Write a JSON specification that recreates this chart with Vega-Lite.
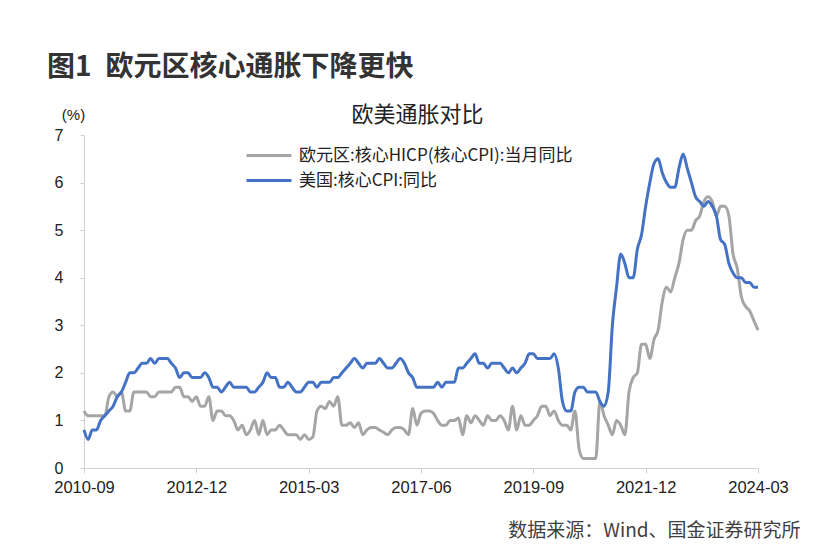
{
  "$schema": "https://vega.github.io/schema/vega-lite/v6.json",
  "width": 674,
  "height": 333,
  "autosize": {"type": "none"},
  "padding": {"left": 84, "top": 135, "right": 76, "bottom": 84},
  "background": "white",
  "title": {
    "text": "图1\u2002欧元区核心通胀下降更快",
    "anchor": "start",
    "frame": "group",
    "dx": -37,
    "offset": 21,
    "font": "Noto Sans CJK SC",
    "fontSize": 28,
    "fontWeight": "bold",
    "color": "#333333"
  },
  "data": {
    "values": [
      {"m": "2010-09", "eu": 1.2, "us": 0.8},
      {"m": "2010-10", "eu": 1.1, "us": 0.6},
      {"m": "2010-11", "eu": 1.1, "us": 0.8},
      {"m": "2010-12", "eu": 1.1, "us": 0.8},
      {"m": "2011-01", "eu": 1.1, "us": 1.0},
      {"m": "2011-02", "eu": 1.1, "us": 1.1},
      {"m": "2011-03", "eu": 1.5, "us": 1.2},
      {"m": "2011-04", "eu": 1.6, "us": 1.3},
      {"m": "2011-05", "eu": 1.5, "us": 1.5},
      {"m": "2011-06", "eu": 1.6, "us": 1.6},
      {"m": "2011-07", "eu": 1.2, "us": 1.8},
      {"m": "2011-08", "eu": 1.2, "us": 2.0},
      {"m": "2011-09", "eu": 1.6, "us": 2.0},
      {"m": "2011-10", "eu": 1.6, "us": 2.1},
      {"m": "2011-11", "eu": 1.6, "us": 2.2},
      {"m": "2011-12", "eu": 1.6, "us": 2.2},
      {"m": "2012-01", "eu": 1.5, "us": 2.3},
      {"m": "2012-02", "eu": 1.5, "us": 2.2},
      {"m": "2012-03", "eu": 1.6, "us": 2.3},
      {"m": "2012-04", "eu": 1.6, "us": 2.3},
      {"m": "2012-05", "eu": 1.6, "us": 2.3},
      {"m": "2012-06", "eu": 1.6, "us": 2.2},
      {"m": "2012-07", "eu": 1.7, "us": 2.1},
      {"m": "2012-08", "eu": 1.7, "us": 1.9},
      {"m": "2012-09", "eu": 1.5, "us": 2.0},
      {"m": "2012-10", "eu": 1.5, "us": 2.0},
      {"m": "2012-11", "eu": 1.4, "us": 1.9},
      {"m": "2012-12", "eu": 1.5, "us": 1.9},
      {"m": "2013-01", "eu": 1.3, "us": 1.9},
      {"m": "2013-02", "eu": 1.3, "us": 2.0},
      {"m": "2013-03", "eu": 1.5, "us": 1.9},
      {"m": "2013-04", "eu": 1.0, "us": 1.7},
      {"m": "2013-05", "eu": 1.2, "us": 1.7},
      {"m": "2013-06", "eu": 1.2, "us": 1.6},
      {"m": "2013-07", "eu": 1.1, "us": 1.7},
      {"m": "2013-08", "eu": 1.1, "us": 1.8},
      {"m": "2013-09", "eu": 1.0, "us": 1.7},
      {"m": "2013-10", "eu": 0.8, "us": 1.7},
      {"m": "2013-11", "eu": 0.9, "us": 1.7},
      {"m": "2013-12", "eu": 0.7, "us": 1.7},
      {"m": "2014-01", "eu": 0.8, "us": 1.6},
      {"m": "2014-02", "eu": 1.0, "us": 1.6},
      {"m": "2014-03", "eu": 0.7, "us": 1.7},
      {"m": "2014-04", "eu": 1.0, "us": 1.8},
      {"m": "2014-05", "eu": 0.7, "us": 2.0},
      {"m": "2014-06", "eu": 0.8, "us": 1.9},
      {"m": "2014-07", "eu": 0.8, "us": 1.9},
      {"m": "2014-08", "eu": 0.9, "us": 1.7},
      {"m": "2014-09", "eu": 0.8, "us": 1.7},
      {"m": "2014-10", "eu": 0.7, "us": 1.8},
      {"m": "2014-11", "eu": 0.7, "us": 1.7},
      {"m": "2014-12", "eu": 0.7, "us": 1.6},
      {"m": "2015-01", "eu": 0.6, "us": 1.6},
      {"m": "2015-02", "eu": 0.7, "us": 1.7},
      {"m": "2015-03", "eu": 0.6, "us": 1.8},
      {"m": "2015-04", "eu": 0.65, "us": 1.8},
      {"m": "2015-05", "eu": 1.2, "us": 1.7},
      {"m": "2015-06", "eu": 1.3, "us": 1.8},
      {"m": "2015-07", "eu": 1.25, "us": 1.8},
      {"m": "2015-08", "eu": 1.4, "us": 1.8},
      {"m": "2015-09", "eu": 1.3, "us": 1.9},
      {"m": "2015-10", "eu": 1.5, "us": 1.9},
      {"m": "2015-11", "eu": 0.9, "us": 2.0},
      {"m": "2015-12", "eu": 0.9, "us": 2.1},
      {"m": "2016-01", "eu": 0.95, "us": 2.2},
      {"m": "2016-02", "eu": 0.85, "us": 2.3},
      {"m": "2016-03", "eu": 0.95, "us": 2.2},
      {"m": "2016-04", "eu": 0.7, "us": 2.1},
      {"m": "2016-05", "eu": 0.8, "us": 2.2},
      {"m": "2016-06", "eu": 0.85, "us": 2.2},
      {"m": "2016-07", "eu": 0.85, "us": 2.2},
      {"m": "2016-08", "eu": 0.8, "us": 2.3},
      {"m": "2016-09", "eu": 0.75, "us": 2.2},
      {"m": "2016-10", "eu": 0.7, "us": 2.1},
      {"m": "2016-11", "eu": 0.8, "us": 2.1},
      {"m": "2016-12", "eu": 0.85, "us": 2.2},
      {"m": "2017-01", "eu": 0.85, "us": 2.3},
      {"m": "2017-02", "eu": 0.8, "us": 2.2},
      {"m": "2017-03", "eu": 0.7, "us": 2.0},
      {"m": "2017-04", "eu": 1.25, "us": 1.9},
      {"m": "2017-05", "eu": 0.9, "us": 1.7},
      {"m": "2017-06", "eu": 1.15, "us": 1.7},
      {"m": "2017-07", "eu": 1.2, "us": 1.7},
      {"m": "2017-08", "eu": 1.2, "us": 1.7},
      {"m": "2017-09", "eu": 1.15, "us": 1.7},
      {"m": "2017-10", "eu": 1.0, "us": 1.8},
      {"m": "2017-11", "eu": 0.9, "us": 1.7},
      {"m": "2017-12", "eu": 0.9, "us": 1.8},
      {"m": "2018-01", "eu": 1.0, "us": 1.8},
      {"m": "2018-02", "eu": 1.0, "us": 1.8},
      {"m": "2018-03", "eu": 1.05, "us": 2.1},
      {"m": "2018-04", "eu": 0.7, "us": 2.1},
      {"m": "2018-05", "eu": 1.1, "us": 2.2},
      {"m": "2018-06", "eu": 0.95, "us": 2.3},
      {"m": "2018-07", "eu": 1.1, "us": 2.4},
      {"m": "2018-08", "eu": 1.0, "us": 2.2},
      {"m": "2018-09", "eu": 0.9, "us": 2.2},
      {"m": "2018-10", "eu": 1.1, "us": 2.1},
      {"m": "2018-11", "eu": 1.0, "us": 2.2},
      {"m": "2018-12", "eu": 1.0, "us": 2.2},
      {"m": "2019-01", "eu": 1.1, "us": 2.2},
      {"m": "2019-02", "eu": 1.0, "us": 2.1},
      {"m": "2019-03", "eu": 0.8, "us": 2.0},
      {"m": "2019-04", "eu": 1.3, "us": 2.1},
      {"m": "2019-05", "eu": 0.8, "us": 2.0},
      {"m": "2019-06", "eu": 1.1, "us": 2.1},
      {"m": "2019-07", "eu": 0.9, "us": 2.2},
      {"m": "2019-08", "eu": 0.9, "us": 2.4},
      {"m": "2019-09", "eu": 1.0, "us": 2.4},
      {"m": "2019-10", "eu": 1.1, "us": 2.3},
      {"m": "2019-11", "eu": 1.3, "us": 2.3},
      {"m": "2019-12", "eu": 1.3, "us": 2.3},
      {"m": "2020-01", "eu": 1.1, "us": 2.3},
      {"m": "2020-02", "eu": 1.2, "us": 2.4},
      {"m": "2020-03", "eu": 1.0, "us": 2.1},
      {"m": "2020-04", "eu": 0.9, "us": 1.4},
      {"m": "2020-05", "eu": 0.9, "us": 1.2},
      {"m": "2020-06", "eu": 0.8, "us": 1.2},
      {"m": "2020-07", "eu": 1.2, "us": 1.6},
      {"m": "2020-08", "eu": 0.4, "us": 1.7},
      {"m": "2020-09", "eu": 0.2, "us": 1.7},
      {"m": "2020-10", "eu": 0.2, "us": 1.6},
      {"m": "2020-11", "eu": 0.2, "us": 1.6},
      {"m": "2020-12", "eu": 0.2, "us": 1.6},
      {"m": "2021-01", "eu": 1.4, "us": 1.4},
      {"m": "2021-02", "eu": 1.1, "us": 1.3},
      {"m": "2021-03", "eu": 0.9, "us": 1.6},
      {"m": "2021-04", "eu": 0.7, "us": 3.0},
      {"m": "2021-05", "eu": 1.0, "us": 3.8},
      {"m": "2021-06", "eu": 0.9, "us": 4.5},
      {"m": "2021-07", "eu": 0.7, "us": 4.3},
      {"m": "2021-08", "eu": 1.6, "us": 4.0},
      {"m": "2021-09", "eu": 1.9, "us": 4.0},
      {"m": "2021-10", "eu": 2.0, "us": 4.6},
      {"m": "2021-11", "eu": 2.6, "us": 4.9},
      {"m": "2021-12", "eu": 2.6, "us": 5.5},
      {"m": "2022-01", "eu": 2.3, "us": 6.0},
      {"m": "2022-02", "eu": 2.7, "us": 6.4},
      {"m": "2022-03", "eu": 2.9, "us": 6.5},
      {"m": "2022-04", "eu": 3.5, "us": 6.2},
      {"m": "2022-05", "eu": 3.8, "us": 6.0},
      {"m": "2022-06", "eu": 3.7, "us": 5.9},
      {"m": "2022-07", "eu": 4.0, "us": 5.9},
      {"m": "2022-08", "eu": 4.3, "us": 6.3},
      {"m": "2022-09", "eu": 4.8, "us": 6.6},
      {"m": "2022-10", "eu": 5.0, "us": 6.3},
      {"m": "2022-11", "eu": 5.0, "us": 6.0},
      {"m": "2022-12", "eu": 5.2, "us": 5.7},
      {"m": "2023-01", "eu": 5.3, "us": 5.6},
      {"m": "2023-02", "eu": 5.6, "us": 5.5},
      {"m": "2023-03", "eu": 5.7, "us": 5.6},
      {"m": "2023-04", "eu": 5.6, "us": 5.5},
      {"m": "2023-05", "eu": 5.3, "us": 5.3},
      {"m": "2023-06", "eu": 5.5, "us": 4.8},
      {"m": "2023-07", "eu": 5.5, "us": 4.7},
      {"m": "2023-08", "eu": 5.3, "us": 4.3},
      {"m": "2023-09", "eu": 4.5, "us": 4.1},
      {"m": "2023-10", "eu": 4.2, "us": 4.0},
      {"m": "2023-11", "eu": 3.6, "us": 4.0},
      {"m": "2023-12", "eu": 3.4, "us": 3.9},
      {"m": "2024-01", "eu": 3.3, "us": 3.9},
      {"m": "2024-02", "eu": 3.1, "us": 3.8},
      {"m": "2024-03", "eu": 2.9, "us": 3.8}
    ]
  },
  "layer": [
    {
      "mark": {"type": "line", "strokeWidth": 3, "interpolate": "monotone"},
      "encoding": {
        "x": {
          "field": "m",
          "type": "ordinal",
          "scale": {"type": "point", "padding": 0},
          "axis": {
            "orient": "bottom",
            "values": ["2010-09", "2012-12", "2015-03", "2017-06", "2019-09", "2021-12", "2024-03"],
            "labelAngle": 0,
            "labelFont": "Liberation Sans",
            "labelFontSize": 16.5,
            "labelColor": "#222222",
            "labelPadding": 6,
            "tickSize": 5,
            "tickColor": "#d0d0d0",
            "domainColor": "#d0d0d0",
            "grid": false,
            "title": "数据来源：Wind、国金证券研究所",
            "titleFont": "Noto Sans CJK SC",
            "titleFontSize": 19,
            "titleFontWeight": "normal",
            "titleColor": "#404040",
            "titleAlign": "right",
            "titleBaseline": "alphabetic",
            "titleX": 716,
            "titleY": 68
          }
        },
        "y": {
          "field": "eu",
          "type": "quantitative",
          "scale": {"domain": [0, 7], "nice": false},
          "axis": {
            "values": [0, 1, 2, 3, 4, 5, 6, 7],
            "grid": false,
            "labelFont": "Liberation Sans",
            "labelFontSize": 16,
            "labelColor": "#222222",
            "labelPadding": 17,
            "tickSize": 4,
            "tickColor": "#d0d0d0",
            "domainColor": "#d0d0d0",
            "title": "(%)",
            "titleAngle": 0,
            "titleAlign": "center",
            "titleBaseline": "alphabetic",
            "titleX": -11,
            "titleY": -16,
            "titleFont": "Liberation Sans",
            "titleFontSize": 15,
            "titleFontWeight": "normal",
            "titleColor": "#222222"
          }
        },
        "color": {
          "datum": "欧元区:核心HICP(核心CPI):当月同比",
          "scale": {
            "domain": ["欧元区:核心HICP(核心CPI):当月同比", "美国:核心CPI:同比"],
            "range": ["#a5a5a5", "#4472c4"]
          },
          "legend": {"title": null}
        }
      }
    },
    {
      "mark": {"type": "line", "strokeWidth": 3, "interpolate": "monotone"},
      "encoding": {
        "x": {
          "field": "m",
          "type": "ordinal",
          "axis": {
            "orient": "top",
            "domain": false,
            "ticks": false,
            "labels": false,
            "grid": false,
            "title": "欧美通胀对比",
            "titleFont": "Noto Sans CJK SC",
            "titleFontSize": 22,
            "titleFontWeight": "normal",
            "titleColor": "#222222",
            "titleAlign": "center",
            "titleBaseline": "alphabetic",
            "titleX": 333,
            "titleY": -14
          }
        },
        "y": {
          "field": "us",
          "type": "quantitative",
          "axis": {
            "values": [0, 1, 2, 3, 4, 5, 6, 7],
            "grid": false,
            "labelFont": "Liberation Sans",
            "labelFontSize": 16,
            "labelColor": "#222222",
            "labelPadding": 17,
            "tickSize": 4,
            "tickColor": "#d0d0d0",
            "domainColor": "#d0d0d0",
            "title": "(%)",
            "titleAngle": 0,
            "titleAlign": "center",
            "titleBaseline": "alphabetic",
            "titleX": -11,
            "titleY": -16,
            "titleFont": "Liberation Sans",
            "titleFontSize": 15,
            "titleFontWeight": "normal",
            "titleColor": "#222222"
          }
        },
        "color": {"datum": "美国:核心CPI:同比", "legend": {"title": null}}
      }
    }
  ],
  "resolve": {"axis": {"x": "independent"}},
  "config": {
    "view": {"stroke": null},
    "legend": {
      "orient": "none",
      "legendX": 168.5,
      "legendY": 4,
      "padding": 0,
      "symbolType": "M-1.5,0H1.5",
      "symbolSize": 900,
      "symbolStrokeWidth": 3,
      "labelFont": "Noto Sans CJK SC",
      "labelFontSize": 17,
      "labelColor": "#222222",
      "labelOffset": 13.5,
      "labelLimit": 500,
      "rowPadding": 0
    }
  }
}
